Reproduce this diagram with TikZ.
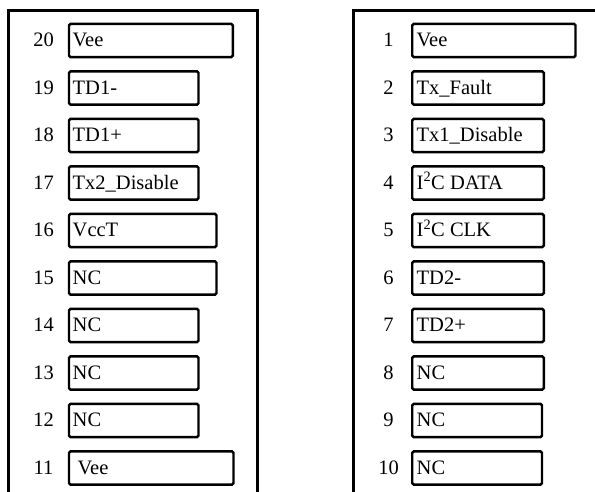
\documentclass[tikz,border=0pt]{standalone}
\usepackage{fontspec}
\setmainfont{Liberation Serif}
\begin{document}
\begin{tikzpicture}[x=1pt,y=-1pt,
  pinbox/.style={draw=black,line width=2.4pt,rounded corners=1.5pt},
  frameline/.style={draw=black,line width=3pt},
  lbl/.style={inner sep=0pt,anchor=base west,font=\fontsize{20.5}{24}\selectfont},
  num/.style={inner sep=0pt,anchor=base,font=\fontsize{20.5}{24}\selectfont}]
\useasboundingbox (0,0) rectangle (595,492);
% connector housings
\coordinate (fLb) at (8.7,492);
\coordinate (fLtl) at (8.7,11);
\coordinate (fLtr) at (257.7,11);
\coordinate (fLbr) at (257.7,492);
\draw[frameline] (fLb) -- (fLtl) -- (fLtr) -- (fLbr);
\coordinate (fRb) at (353.3,492);
\coordinate (fRtl) at (353.3,10.7);
\coordinate (fRtr) at (595,10.7);
\draw[frameline] (fRb) -- (fRtl) -- (fRtr);
% left column
\foreach \i/\n/\r/\t/\tx in {
  0/20/232.8/Vee/72.5,
  1/19/198.5/TD1-/72.5,
  2/18/198.5/TD1+/72.5,
  3/17/198.5/Tx2\_Disable/72.5,
  4/16/216.5/VccT/72.5,
  5/15/216.5/NC/72.5,
  6/14/198.5/NC/72.5,
  7/13/198.5/NC/72.5,
  8/12/198.5/NC/72.5,
  9/11/233.5/Vee/77.5} {
  \pgfmathsetmacro\yc{40.5+47.5*\i}
  \draw[pinbox] (69,\yc-16.6) rectangle (\r,\yc+16.6);
  \node[num] (nL\n) at (43.5,\yc+6.4) {\n};
  \node[lbl] (tL\n) at (\tx,\yc+6.4) {\t};
}
% right column
\foreach \i/\n/\r/\t in {
  0/1/575.5/Vee,
  1/2/543.8/Tx\_Fault,
  2/3/543.8/Tx1\_Disable,
  3/4/543.8/I\textsuperscript{2}C DATA,
  4/5/543.8/I\textsuperscript{2}C CLK,
  5/6/543.8/TD2-,
  6/7/543.8/TD2+,
  7/8/543.8/NC,
  8/9/542/NC,
  9/10/542/NC} {
  \pgfmathsetmacro\yc{40.5+47.5*\i}
  \draw[pinbox] (412.2,\yc-16.6) rectangle (\r,\yc+16.6);
  \node[num] (nR\n) at (388.5,\yc+6.4) {\n};
  \node[lbl] (tR\n) at (416.5,\yc+6.4) {\t};
}
\end{tikzpicture}
\end{document}
